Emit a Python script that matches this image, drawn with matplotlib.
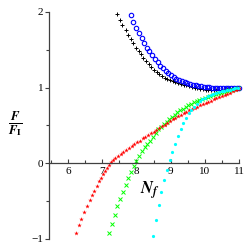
import matplotlib
matplotlib.use("Agg")
import matplotlib.pyplot as plt
from matplotlib.ticker import MultipleLocator

plt.rcParams['mathtext.fontset'] = 'stix'
plt.rcParams['font.family'] = ['Liberation Serif', 'DejaVu Serif']

# black "+"
black_x = [7.43, 7.51, 7.59, 7.68, 7.75, 7.83, 7.90, 7.98, 8.06, 8.12, 8.20, 8.28, 8.36, 8.43,
           8.51, 8.59, 8.67, 8.74, 8.82, 8.90, 8.98, 9.06, 9.14, 9.22, 9.30, 9.38, 9.46, 9.54,
           9.62, 9.70, 9.78, 9.86, 9.94, 10.02, 10.10, 10.18, 10.26, 10.34, 10.42, 10.50,
           10.58, 10.66, 10.74, 10.82, 10.90, 10.98]
black_y = [1.98, 1.90, 1.83, 1.76, 1.70, 1.64, 1.585, 1.53, 1.48, 1.44, 1.39, 1.35, 1.31, 1.275,
           1.24, 1.21, 1.18, 1.15, 1.13, 1.11, 1.10, 1.085, 1.07, 1.06, 1.05, 1.04, 1.03, 1.02,
           1.01, 1.0, 0.992, 0.985, 0.978, 0.973, 0.97, 0.968, 0.967, 0.968, 0.97, 0.973,
           0.977, 0.981, 0.985, 0.99, 0.994, 0.999]

# blue circles
blue_x = [7.83, 7.91, 7.99, 8.07, 8.15, 8.23, 8.30, 8.38, 8.46, 8.54, 8.62, 8.70, 8.77, 8.85,
          8.93, 9.01, 9.09, 9.17, 9.25, 9.33, 9.41, 9.49, 9.57, 9.65, 9.73, 9.81, 9.89, 9.97,
          10.05, 10.13, 10.21, 10.29, 10.37, 10.45, 10.53, 10.61, 10.69, 10.77, 10.85, 10.93, 11.0]
blue_y = [1.96, 1.87, 1.79, 1.72, 1.65, 1.59, 1.53, 1.48, 1.43, 1.38, 1.34, 1.29, 1.26, 1.22,
          1.19, 1.165, 1.14, 1.115, 1.10, 1.085, 1.07, 1.06, 1.05, 1.04, 1.033, 1.026, 1.02, 1.015,
          1.01, 1.005, 1.0, 0.997, 0.994, 0.992, 0.99, 0.99, 0.99, 0.992, 0.994, 0.997, 1.0]

# red stars
red_x = [6.23, 6.31, 6.39, 6.47, 6.55, 6.63, 6.70, 6.77, 6.84, 6.90, 6.96, 7.03, 7.09, 7.15,
         7.20, 7.26, 7.32, 7.38, 7.46, 7.54, 7.62, 7.70, 7.78, 7.86, 7.94, 8.02, 8.10, 8.18,
         8.26, 8.34, 8.42, 8.50, 8.58, 8.66, 8.74, 8.82, 8.90, 8.98, 9.06, 9.14, 9.22, 9.30,
         9.38, 9.46, 9.54, 9.62, 9.70, 9.78, 9.86, 9.94, 10.02, 10.10, 10.18, 10.26, 10.34,
         10.42, 10.50, 10.58, 10.66, 10.74, 10.82, 10.90, 10.96, 11.0]
red_y = [-0.92, -0.82, -0.73, -0.64, -0.56, -0.49, -0.42, -0.36, -0.30, -0.24, -0.19, -0.146,
         -0.10, -0.06, -0.02, 0.013, 0.045, 0.07, 0.10, 0.125, 0.15, 0.175, 0.20, 0.23, 0.255,
         0.28, 0.30, 0.33, 0.35, 0.375, 0.40, 0.42, 0.44, 0.465, 0.49, 0.51, 0.535, 0.555, 0.58,
         0.60, 0.62, 0.645, 0.66, 0.68, 0.70, 0.715, 0.73, 0.75, 0.765, 0.78, 0.80, 0.815, 0.83,
         0.845, 0.86, 0.875, 0.89, 0.905, 0.92, 0.935, 0.95, 0.965, 0.98, 1.0]

# green crosses
green_x = [7.21, 7.28, 7.36, 7.44, 7.52, 7.60, 7.68, 7.76, 7.84, 7.92, 8.00, 8.08, 8.16, 8.24,
           8.32, 8.40, 8.48, 8.56, 8.64, 8.72, 8.80, 8.88, 8.96, 9.04, 9.12, 9.20, 9.28, 9.36,
           9.44, 9.52, 9.60, 9.68, 9.76, 9.84, 9.92, 10.00, 10.08, 10.16, 10.24, 10.32, 10.40,
           10.48, 10.56, 10.64, 10.72, 10.80, 10.88, 10.96]
green_y = [-0.92, -0.80, -0.68, -0.57, -0.47, -0.38, -0.29, -0.20, -0.12, -0.04, 0.03, 0.10,
           0.16, 0.21, 0.25, 0.29, 0.345, 0.40, 0.45, 0.48, 0.515, 0.55, 0.58, 0.61, 0.645,
           0.675, 0.70, 0.72, 0.745, 0.765, 0.785, 0.805, 0.825, 0.84, 0.855, 0.87, 0.88, 0.89,
           0.905, 0.915, 0.925, 0.935, 0.945, 0.955, 0.965, 0.975, 0.985, 0.995]

# cyan dots
cyan_x = [8.48, 8.57, 8.65, 8.73, 8.80, 8.88, 8.97, 9.05, 9.13, 9.21, 9.29, 9.37, 9.45, 9.53,
          9.61, 9.69, 9.77, 9.85, 9.93, 10.01, 10.09, 10.17, 10.25, 10.33, 10.41, 10.49, 10.57,
          10.65, 10.73, 10.81, 10.89, 10.97]
cyan_y = [-0.96, -0.745, -0.55, -0.38, -0.225, -0.083, 0.044, 0.15, 0.26, 0.36, 0.45, 0.53,
          0.60, 0.66, 0.71, 0.75, 0.79, 0.82, 0.845, 0.87, 0.89, 0.905, 0.92, 0.93, 0.94, 0.95,
          0.96, 0.965, 0.975, 0.98, 0.99, 0.995]

fig = plt.figure(figsize=(2.49, 2.49), dpi=100)
ax = fig.add_axes([49/249, 1-239/249, 190/249, 227/249])

kw = dict(linestyle='none', clip_on=False)
ax.plot(black_x, black_y, marker='+', color='black', markersize=3.0, markeredgewidth=0.7, **kw)
ax.plot(blue_x, blue_y, marker='o', color='#0000ff', markerfacecolor='none', markersize=3.2,
        markeredgewidth=0.8, **kw)
ax.plot(green_x, green_y, marker='x', color='#00ff00', markersize=2.6, markeredgewidth=0.7, **kw)
ax.plot(red_x, red_y, marker='*', color='#ff0000', markersize=3.4, markeredgewidth=0, **kw)
ax.plot(cyan_x, cyan_y, marker='o', color='#00ffff', markersize=2.3, markeredgewidth=0, **kw)

ax.set_xlim(5.44, 11.0)
ax.set_ylim(-1, 2)

for s in ['top', 'right']:
    ax.spines[s].set_visible(False)
ax.spines['bottom'].set_position(('data', 0))
for s in ['left', 'bottom']:
    ax.spines[s].set_color('#404040')
    ax.spines[s].set_linewidth(0.9)

ax.xaxis.set_minor_locator(MultipleLocator(0.5))
ax.yaxis.set_minor_locator(MultipleLocator(0.5))
ax.set_xticks([6, 7, 8, 9, 10, 11])
ax.set_xticklabels(['6', '7', '8', '9', '10', '11'])
ax.set_yticks([-1, 0, 1, 2])
ax.set_yticklabels(['\u22121', '0', '1', '2'])

ax.tick_params(axis='x', which='both', direction='in', length=3, width=0.8, color='#404040',
               labelsize=8, pad=3)
ax.tick_params(axis='x', which='minor', length=2)
ax.tick_params(axis='y', which='both', direction='out', length=3, width=0.8, color='#404040',
               labelsize=8, pad=1)
ax.tick_params(axis='y', which='minor', length=2)

fig.text(15/249, 1-124/249, r'$\frac{\mathbfit{F}}{\mathbfit{F}_{\mathbf{I}}}$', fontsize=13,
         ha='center', va='center')
fig.text(150/249, 1-190/249, r'$\mathbfit{N}_{\mathbfit{f}}$', fontsize=12,
         ha='center', va='center')

fig.savefig('out.png', dpi=100)
